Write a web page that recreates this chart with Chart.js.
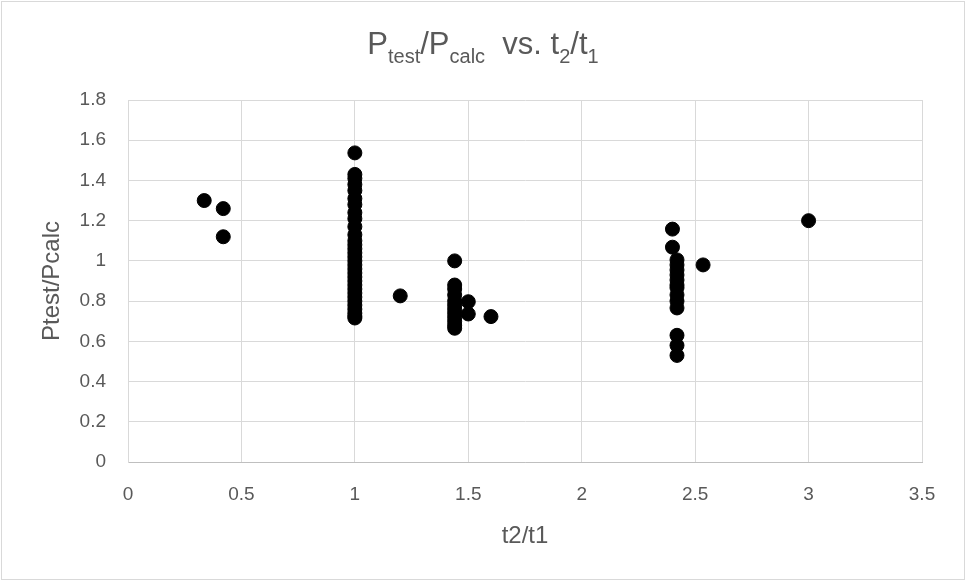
<!DOCTYPE html>
<html>
<head>
<meta charset="utf-8">
<script src="https://cdn.jsdelivr.net/npm/chart.js@4"></script>
<style>
  body { margin: 0; background: #fff; }
  #wrap { width: 966px; height: 581px; position: relative; }
</style>
</head>
<body>
<div id="wrap"><canvas id="chart" width="966" height="581"></canvas></div>
<script>
// 데이터 (t2/t1 , Ptest/Pcalc)
var xValues = [
    0.336, 0.42, 0.42,
    1, 1, 1, 1, 1, 1, 1, 1, 1, 1,
    1, 1, 1, 1, 1, 1, 1, 1, 1, 1,
    1, 1, 1, 1, 1, 1, 1, 1, 1, 1,
    1, 1,
    1.2,
    1.44, 1.44, 1.44, 1.44, 1.44, 1.44, 1.44, 1.44, 1.44, 1.44, 1.44, 1.44,
    1.5, 1.5, 1.6,
    2.40, 2.40,
    2.42, 2.42, 2.42, 2.42, 2.42, 2.42, 2.42, 2.42, 2.42, 2.42,
    2.42, 2.42, 2.42,
    2.535, 3.0
];
var yValues = [
    1.30, 1.26, 1.12,
    1.537, 1.43, 1.41, 1.38, 1.35, 1.31, 1.28, 1.24, 1.21, 1.17,
    1.13, 1.10, 1.08, 1.06, 1.04, 1.02, 1.00, 0.98, 0.96, 0.94,
    0.92, 0.90, 0.88, 0.86, 0.84, 0.82, 0.80, 0.78, 0.76, 0.74,
    0.725, 0.716,
    0.826,
    1.00, 0.88, 0.86, 0.83, 0.80, 0.78, 0.76, 0.74, 0.72, 0.70, 0.68, 0.665,
    0.797, 0.736, 0.723,
    1.158, 1.068,
    1.005, 0.98, 0.955, 0.93, 0.905, 0.88, 0.866, 0.831, 0.80, 0.766,
    0.63, 0.58, 0.53,
    0.98, 1.20
];
var xTickLabels = ['0', '0.5', '1', '1.5', '2', '2.5', '3', '3.5'];
var yTickLabels = ['0', '0.2', '0.4', '0.6', '0.8', '1', '1.2', '1.4', '1.6', '1.8'];

var points = xValues.map(function(x, i) {
    return { x: x, y: yValues[i] };
});

var fontFamily = '"Liberation Sans", "DejaVu Sans", sans-serif';
var textColor = '#595959';

// 제목 (아래 첨자 포함) 과 바깥 테두리
var titlePlugin = {
    id: 'titlePlugin',
    afterDraw: function(chart) {
        var ctx = chart.ctx;
        var parts = [
            ['P', 0], ['test', 1], ['/P', 0], ['calc', 1], ['  vs. t', 0], ['2', 1], ['/t', 0], ['1', 1]
        ];
        var big = '31px ' + fontFamily, small = '20px ' + fontFamily;
        ctx.save();
        var total = 0;
        parts.forEach(function(p) {
            ctx.font = p[1] ? small : big;
            total += ctx.measureText(p[0]).width;
        });
        var x = chart.width / 2 - total / 2, base = 54;
        ctx.fillStyle = textColor;
        ctx.textBaseline = 'alphabetic';
        parts.forEach(function(p) {
            ctx.font = p[1] ? small : big;
            ctx.fillText(p[0], x, p[1] ? base + 9 : base);
            x += ctx.measureText(p[0]).width;
        });
        ctx.strokeStyle = '#d9d9d9';
        ctx.lineWidth = 1;
        ctx.strokeRect(1.5, 1.5, chart.width - 3, chart.height - 3);
        ctx.restore();
    }
};

var config = {
    type: 'scatter',
    data: {
        datasets: [{
            data: points,
            backgroundColor: '#000',
            borderColor: '#000',
            pointRadius: 7,
            pointHoverRadius: 7
        }]
    },
    options: {
        responsive: false,
        animation: false,
        layout: { padding: { top: 100, right: 44, bottom: 0, left: 0 } },
        plugins: {
            legend: { display: false },
            tooltip: { enabled: false }
        },
        scales: {
            x: {
                type: 'linear',
                min: 0,
                max: 3.5,
                afterFit: function(scale) { scale.height = 119; },
                afterBuildTicks: function(scale) {
                    scale.ticks = xTickLabels.map(function(t) { return { value: parseFloat(t) }; });
                },
                ticks: {
                    padding: 21,
                    color: textColor,
                    font: { family: fontFamily, size: 19 },
                    callback: function(v, i) { return xTickLabels[i]; }
                },
                grid: { color: '#d9d9d9', drawTicks: false },
                border: { color: '#bfbfbf', width: 1 },
                title: {
                    display: true,
                    text: 't2/t1',
                    color: textColor,
                    font: { family: fontFamily, size: 24 },
                    padding: { top: 30, bottom: 30 }
                }
            },
            y: {
                type: 'linear',
                min: 0,
                max: 1.8,
                afterFit: function(scale) { scale.width = 128; },
                afterBuildTicks: function(scale) {
                    scale.ticks = yTickLabels.map(function(t) { return { value: parseFloat(t) }; });
                },
                ticks: {
                    padding: 22,
                    color: textColor,
                    font: { family: fontFamily, size: 19 },
                    callback: function(v, i) { return yTickLabels[i]; }
                },
                grid: { color: '#d9d9d9', drawTicks: false },
                border: { color: '#d9d9d9', width: 1 },
                title: {
                    display: true,
                    text: 'Ptest/Pcalc',
                    color: textColor,
                    font: { family: fontFamily, size: 24 },
                    padding: { top: 38, bottom: 38 }
                }
            }
        }
    },
    plugins: [titlePlugin]
};

var chart = new Chart(document.getElementById('chart'), config);
</script>
</body>
</html>
